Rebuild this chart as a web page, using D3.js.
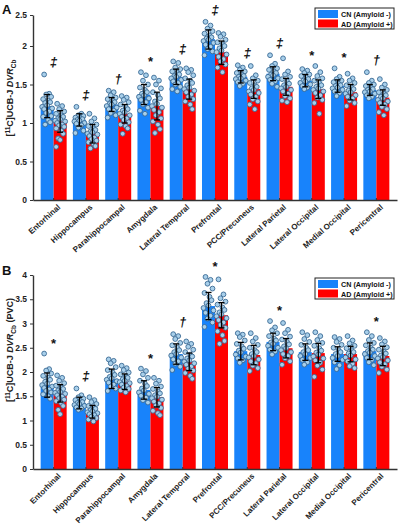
<!DOCTYPE html>
<html><head><meta charset="utf-8">
<script src="https://cdn.jsdelivr.net/npm/d3@7"></script>
<style>body{margin:0;background:#fff}svg{font-family:"Liberation Sans",Arial,sans-serif;font-weight:bold}</style>
</head><body>
<script>
const categories = ["Entorhinal","Hippocampus","Parahippocampal","Amygdala","Lateral Temporal","Prefrontal","PCC/Precuneus","Lateral Parietal","Lateral Occipital","Medial Occipital","Pericentral"];
const seriesNames = ["CN (Amyloid -)","AD (Amyloid +)"];

// Panel A: [11C]UCB-J DVR_Cb
const meanA_CN = [1.22,1.04,1.24,1.37,1.60,2.11,1.60,1.64,1.55,1.48,1.43];
const meanA_AD = [1.02,0.86,1.12,1.22,1.44,1.92,1.44,1.47,1.44,1.40,1.33];
const sdA_CN = [0.15,0.08,0.09,0.13,0.10,0.15,0.08,0.09,0.08,0.08,0.07];
const sdA_AD = [0.14,0.12,0.12,0.18,0.13,0.16,0.12,0.11,0.12,0.10,0.10];
const sigA = ["‡","‡","†","*","‡","‡","‡","‡","*","*","†"];
const dotsA_CN = [
 [1.63,1.38,1.37,1.34,1.31,1.29,1.27,1.26,1.23,1.21,1.19,1.18,1.15,1.13,1.09,1.08,1.04,1.01,0.98],
 [1.21,1.12,1.10,1.09,1.07,1.06,1.05,1.04,1.03,1.02,1.00,0.99,0.97,0.94,0.90,0.87],
 [1.42,1.40,1.36,1.33,1.31,1.29,1.27,1.25,1.24,1.22,1.20,1.18,1.16,1.13,1.10,1.07],
 [1.66,1.62,1.55,1.50,1.46,1.43,1.40,1.38,1.36,1.34,1.32,1.30,1.27,1.24,1.20,1.16,1.12],
 [1.80,1.78,1.72,1.70,1.67,1.65,1.63,1.61,1.60,1.58,1.56,1.54,1.52,1.50,1.47,1.44,1.41],
 [2.39,2.33,2.28,2.24,2.20,2.17,2.14,2.12,2.10,2.08,2.05,2.02,1.99,1.96,1.93,1.88],
 [1.75,1.72,1.69,1.67,1.65,1.63,1.61,1.60,1.58,1.57,1.55,1.53,1.51,1.48],
 [1.88,1.77,1.74,1.71,1.69,1.67,1.65,1.63,1.62,1.60,1.58,1.56,1.54,1.51,1.47],
 [1.70,1.68,1.65,1.63,1.61,1.59,1.57,1.55,1.54,1.52,1.50,1.48,1.46,1.44],
 [1.71,1.60,1.57,1.55,1.53,1.51,1.49,1.48,1.46,1.45,1.43,1.41,1.39,1.35],
 [1.66,1.55,1.52,1.50,1.48,1.46,1.44,1.43,1.41,1.40,1.38,1.36,1.34,1.32]
];
const dotsA_AD = [
 [1.25,1.22,1.18,1.15,1.12,1.10,1.08,1.06,1.05,1.03,1.02,1.00,0.98,0.97,0.95,0.93,0.90,0.86,0.80,0.78,0.69],
 [1.12,1.06,1.02,0.98,0.96,0.93,0.91,0.89,0.88,0.86,0.85,0.83,0.81,0.79,0.77,0.75,0.73,0.70,0.67],
 [1.35,1.33,1.30,1.27,1.24,1.21,1.18,1.16,1.14,1.12,1.10,1.08,1.06,1.04,1.01,0.98,0.96,0.93,0.86],
 [1.59,1.55,1.50,1.45,1.40,1.36,1.32,1.28,1.25,1.22,1.20,1.17,1.14,1.10,1.06,1.02,0.98,0.92,0.87],
 [1.71,1.69,1.66,1.62,1.58,1.55,1.52,1.49,1.46,1.44,1.42,1.40,1.37,1.34,1.31,1.28,1.24,1.18],
 [2.21,2.19,2.15,2.10,2.06,2.03,2.00,1.97,1.94,1.92,1.89,1.86,1.83,1.80,1.76,1.72,1.66],
 [1.74,1.62,1.58,1.55,1.52,1.49,1.47,1.45,1.43,1.41,1.39,1.37,1.34,1.31,1.28,1.24,1.18],
 [1.84,1.67,1.63,1.60,1.57,1.54,1.51,1.49,1.47,1.45,1.43,1.41,1.38,1.35,1.32,1.29,1.27],
 [1.74,1.66,1.61,1.58,1.55,1.52,1.49,1.47,1.45,1.43,1.41,1.39,1.36,1.33,1.30,1.26,1.12],
 [1.64,1.58,1.55,1.52,1.49,1.46,1.44,1.42,1.40,1.38,1.36,1.34,1.32,1.29,1.26,1.22],
 [1.57,1.50,1.46,1.43,1.40,1.38,1.36,1.34,1.32,1.30,1.28,1.26,1.24,1.21,1.18,1.14,1.10]
];
const ticksA = [0,0.5,1,1.5,2,2.5];

// Panel B: [11C]UCB-J DVR_Cb (PVC)
const meanB_CN = [1.73,1.36,1.86,1.63,2.37,3.36,2.43,2.62,2.41,2.37,2.43];
const meanB_AD = [1.56,1.18,1.80,1.48,2.21,3.17,2.35,2.49,2.39,2.37,2.33];
const sdB_CN = [0.25,0.12,0.20,0.19,0.21,0.28,0.18,0.18,0.17,0.15,0.17];
const sdB_AD = [0.18,0.13,0.16,0.20,0.18,0.26,0.20,0.20,0.20,0.16,0.20];
const sigB = ["*","‡","","*","†","*","","*","","","*"];
const dotsB_CN = [
 [2.38,2.06,2.03,1.97,1.92,1.88,1.84,1.80,1.76,1.73,1.70,1.67,1.64,1.61,1.58,1.54,1.50,1.45],
 [1.66,1.52,1.48,1.45,1.42,1.40,1.38,1.36,1.34,1.32,1.30,1.27,1.25,1.22],
 [2.26,2.23,2.18,2.10,2.04,1.99,1.94,1.90,1.87,1.84,1.81,1.78,1.74,1.70,1.66,1.61],
 [2.07,2.02,1.95,1.88,1.82,1.76,1.71,1.66,1.62,1.58,1.55,1.51,1.47,1.42,1.37],
 [2.78,2.74,2.68,2.60,2.55,2.50,2.45,2.41,2.37,2.34,2.30,2.26,2.22,2.17,2.11,2.04],
 [3.96,3.90,3.82,3.72,3.63,3.55,3.48,3.42,3.37,3.32,3.27,3.22,3.16,3.10,3.02,2.93],
 [2.80,2.77,2.72,2.65,2.58,2.53,2.48,2.44,2.40,2.36,2.32,2.28,2.24,2.19],
 [3.05,2.92,2.86,2.80,2.74,2.69,2.65,2.61,2.58,2.54,2.50,2.46,2.42,2.36],
 [2.82,2.76,2.68,2.62,2.56,2.50,2.45,2.41,2.37,2.33,2.29,2.25,2.20,2.15],
 [2.72,2.68,2.62,2.56,2.50,2.45,2.41,2.37,2.33,2.29,2.25,2.20,2.14,2.06],
 [2.82,2.74,2.66,2.60,2.55,2.50,2.46,2.43,2.40,2.37,2.33,2.29,2.25,2.20,2.14]
];
const dotsB_AD = [
 [1.93,1.88,1.82,1.77,1.72,1.68,1.65,1.62,1.59,1.57,1.55,1.52,1.49,1.46,1.43,1.40,1.36,1.30,1.22,1.13],
 [1.48,1.42,1.38,1.34,1.30,1.27,1.24,1.21,1.19,1.17,1.15,1.13,1.11,1.08,1.05,1.02,0.98],
 [2.13,2.08,2.04,1.99,1.95,1.91,1.88,1.85,1.82,1.79,1.77,1.74,1.71,1.68,1.65,1.62,1.58],
 [1.88,1.82,1.76,1.70,1.65,1.60,1.56,1.52,1.49,1.46,1.43,1.39,1.35,1.31,1.26,1.20,1.15,1.11],
 [2.63,2.58,2.52,2.46,2.41,2.36,2.32,2.28,2.24,2.21,2.18,2.15,2.11,2.07,2.03,1.98,1.92,1.86],
 [3.91,3.60,3.52,3.45,3.39,3.33,3.28,3.23,3.19,3.15,3.11,3.07,3.02,2.97,2.91,2.84,2.76,2.64,2.58],
 [2.80,2.70,2.63,2.56,2.50,2.45,2.41,2.37,2.33,2.30,2.26,2.22,2.18,2.13,2.08,2.02],
 [3.01,2.87,2.80,2.73,2.67,2.62,2.57,2.53,2.49,2.45,2.41,2.37,2.33,2.28,2.22,2.15],
 [2.82,2.74,2.66,2.60,2.54,2.49,2.44,2.40,2.36,2.32,2.28,2.24,2.19,2.13,2.05,1.90],
 [2.74,2.65,2.59,2.54,2.49,2.45,2.41,2.38,2.34,2.30,2.26,2.22,2.17,2.12,2.08],
 [2.70,2.63,2.57,2.51,2.46,2.42,2.38,2.34,2.31,2.28,2.24,2.20,2.16,2.11,2.05,1.98]
];
const ticksB = [0,0.5,1,1.5,2,2.5,3,3.5,4];

const COL = ["#1883fb","#ff0000"];
const jitter = [-3,2,-1,4,-4,1,3,-2,0,-5,5,-3,2,-1,4,-4,1,3,-2,0,-4];

const svg = d3.select("body").append("svg").attr("width",400).attr("height",525);

const x = d3.scaleBand().domain(categories).range([33,397]).paddingOuter(0.14).paddingInner(0);
const xs = d3.scaleBand().domain(seriesNames).range([-13,13]);

function panel(cfg){
  const g = svg.append("g");
  const y = d3.scaleLinear().domain(cfg.yDomain).range(cfg.yRange);
  const cx = c => x(c) + x.bandwidth()/2;
  const series = [
    {name:seriesNames[0], mean:cfg.cn, sd:cfg.cnSd, dots:cfg.cnDots},
    {name:seriesNames[1], mean:cfg.ad, sd:cfg.adSd, dots:cfg.adDots}
  ];
  series.forEach((s,si)=>{
    g.selectAll(null).data(categories).join("rect")
      .attr("x",c=>cx(c)+xs(s.name)).attr("width",xs.bandwidth())
      .attr("y",(c,i)=>y(s.mean[i])).attr("height",(c,i)=>y(0)-y(s.mean[i]))
      .attr("fill",COL[si]);
  });
  series.forEach((s,si)=>{
    categories.forEach((c,i)=>{
      const bx = cx(c)+xs(s.name)+xs.bandwidth()/2;
      g.selectAll(null).data(s.dots[i]).join("circle")
        .attr("cx",(d,k)=>bx+jitter[k%jitter.length])
        .attr("cy",d=>y(d)).attr("r",2.4)
        .attr("fill","#a8cfea").attr("stroke","#3a6a94").attr("stroke-width",0.9);
    });
  });
  series.forEach((s,si)=>{
    categories.forEach((c,i)=>{
      const bx = cx(c)+xs(s.name)+xs.bandwidth()/2;
      const lo = y(s.mean[i]-s.sd[i]), hi = y(s.mean[i]+s.sd[i]);
      g.append("line").attr("x1",bx).attr("x2",bx).attr("y1",lo).attr("y2",hi).attr("stroke","#000").attr("stroke-width",1.3);
      [lo,hi].forEach(v=>g.append("line").attr("x1",bx-3).attr("x2",bx+3).attr("y1",v).attr("y2",v).attr("stroke","#000").attr("stroke-width",1.3));
    });
  });
  categories.forEach((c,i)=>{
    const s = cfg.sig[i]; if(!s) return;
    const top = d3.max([...cfg.cnDots[i],...cfg.adDots[i],cfg.cn[i]+cfg.cnSd[i],cfg.ad[i]+cfg.adSd[i]]);
    const yc = y(top) - 13;
    g.append("text").attr("x",cx(c)).attr("y",yc + (s==="*"?7:5))
      .attr("text-anchor","middle").attr("font-size",s==="*"?13:13)
      .attr("font-style",s==="*"?"normal":"italic").attr("fill","#111").text(s);
  });
  const ya = g.append("g").attr("transform","translate(33,0)")
    .call(d3.axisLeft(y).tickValues(cfg.ticks).tickFormat(d3.format("~g")).tickSize(3).tickSizeOuter(0).tickPadding(3));
  ya.select(".domain").attr("stroke","#333").attr("stroke-width",1.4);
  ya.selectAll(".tick line").attr("stroke","#333");
  ya.selectAll("text").attr("font-size",8.5).attr("font-weight","bold").attr("font-family","Liberation Sans, Arial, sans-serif").attr("fill","#222");
  const xa = g.append("g").attr("transform",`translate(0,${y(0)})`)
    .call(d3.axisBottom(x).tickSizeInner(-2).tickSizeOuter(0));
  xa.select(".domain").attr("stroke","#333").attr("stroke-width",1.4);
  xa.selectAll(".tick line").attr("stroke","#333");
  xa.selectAll("text").attr("font-size",8).attr("font-weight","bold").attr("font-family","Liberation Sans, Arial, sans-serif").attr("fill","#222")
    .attr("x",0).attr("y",8).attr("dy","0.35em").attr("transform",`rotate(${cfg.angle})`).style("text-anchor","end");
  const t = g.append("text").attr("transform",`translate(13,${cfg.labelY}) rotate(-90)`)
    .attr("text-anchor","middle").attr("font-size",9).attr("fill","#222");
  t.append("tspan").text("[");
  t.append("tspan").attr("font-size",6.5).attr("dy",-3.5).text("11");
  t.append("tspan").attr("dy",3.5).text("C]UCB-J ");
  t.append("tspan").attr("font-style","italic").text("DVR");
  t.append("tspan").attr("font-size",6.5).attr("dy",2.5).text("Cb");
  if(cfg.pvc) t.append("tspan").attr("dy",-2.5).text(" (PVC)");
  g.append("text").attr("x",2).attr("y",cfg.letterY).attr("font-size",13).attr("fill","#111").text(cfg.letter);
  const L = g.append("g").attr("transform",`translate(315,${cfg.legendY})`);
  L.append("rect").attr("width",79).attr("height",21).attr("fill","#fff").attr("stroke","#222").attr("stroke-width",1);
  seriesNames.forEach((n,i)=>{
    L.append("rect").attr("x",3).attr("y",2+i*9.5).attr("width",20).attr("height",8).attr("fill",COL[i]);
    L.append("text").attr("x",26).attr("y",9+i*9.5).attr("font-size",7.2).attr("fill","#111").text(n);
  });
}

panel({cn:meanA_CN, ad:meanA_AD, cnSd:sdA_CN, adSd:sdA_AD, cnDots:dotsA_CN, adDots:dotsA_AD, sig:sigA,
  yDomain:[0,2,2.5], yRange:[200,46,15], ticks:ticksA, labelY:98, pvc:false, letter:"A", letterY:14, legendY:8, angle:-42});
panel({cn:meanB_CN, ad:meanB_AD, cnSd:sdB_CN, adSd:sdB_AD, cnDots:dotsB_CN, adDots:dotsB_AD, sig:sigB,
  yDomain:[0,4], yRange:[469,275], ticks:ticksB, labelY:350, pvc:true, letter:"B", letterY:275, legendY:278, angle:-45});
</script>
</body></html>
